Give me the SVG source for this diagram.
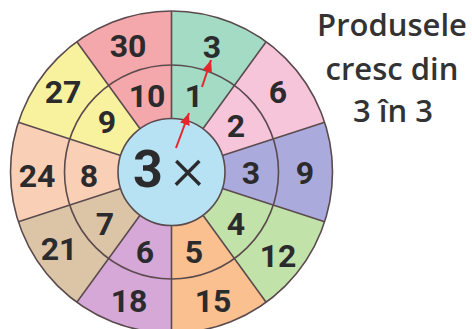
<svg xmlns="http://www.w3.org/2000/svg" width="472" height="329" viewBox="0 0 472 329">
<style>
.w{stroke:none}
.ln{fill:none;stroke:#5b4b4e;stroke-width:1.6}
.n{font-family:Roboto,"Liberation Sans",sans-serif;font-weight:700;font-size:32px;fill:#2b2b2e;text-anchor:middle}
.t{font-family:"Open Sans","Noto Sans",sans-serif;font-weight:600;font-size:31px;fill:#333;text-anchor:middle}
.ar{stroke:#e5262c;stroke-width:2;fill:none;marker-end:url(#ah)}
</style>
<defs>
<marker id="ah" markerUnits="userSpaceOnUse" markerWidth="12" markerHeight="10" refX="12" refY="5" orient="auto">
<path d="M0,0 L12,5 L0,10 z" fill="#e5262c"/>
</marker>
</defs>
<rect width="472" height="329" fill="#fff"/>
<g id="s1">
<path class="w" fill="#a3dbc4" d="M171.5,172 L171.5,11 A161,161 0 0 1 266.14,41.75 Z"/>
<text class="n" x="212" y="58">3</text><text class="n" x="194" y="107">1</text>
</g>
<g id="s2">
<path class="w" fill="#f7c5da" d="M171.5,172 L266.14,41.75 A161,161 0 0 1 324.63,122.25 Z"/>
<text class="n" x="278" y="103">6</text><text class="n" x="236" y="137">2</text>
</g>
<g id="s3">
<path class="w" fill="#abaadc" d="M171.5,172 L324.63,122.25 A161,161 0 0 1 324.63,221.75 Z"/>
<text class="n" x="305" y="184">9</text><text class="n" x="251" y="184">3</text>
</g>
<g id="s4">
<path class="w" fill="#c1e2a9" d="M171.5,172 L324.63,221.75 A161,161 0 0 1 266.14,302.25 Z"/>
<text class="n" x="278" y="267">12</text><text class="n" x="236" y="235">4</text>
</g>
<g id="s5">
<path class="w" fill="#fbc08f" d="M171.5,172 L266.14,302.25 A161,161 0 0 1 171.5,333 Z"/>
<text class="n" x="213" y="312">15</text><text class="n" x="194" y="263">5</text>
</g>
<g id="s6">
<path class="w" fill="#d5a8d8" d="M171.5,172 L171.5,333 A161,161 0 0 1 76.86,302.25 Z"/>
<text class="n" x="129" y="312">18</text><text class="n" x="145" y="263">6</text>
</g>
<g id="s7">
<path class="w" fill="#dcc5a6" d="M171.5,172 L76.86,302.25 A161,161 0 0 1 18.37,221.75 Z"/>
<text class="n" x="59" y="260">21</text><text class="n" x="105" y="235">7</text>
</g>
<g id="s8">
<path class="w" fill="#f9cfb5" d="M171.5,172 L18.37,221.75 A161,161 0 0 1 18.37,122.25 Z"/>
<text class="n" x="37" y="187">24</text><text class="n" x="89" y="187">8</text>
</g>
<g id="s9">
<path class="w" fill="#f8f29e" d="M171.5,172 L18.37,122.25 A161,161 0 0 1 76.86,41.75 Z"/>
<text class="n" x="63" y="103">27</text><text class="n" x="107" y="133">9</text>
</g>
<g id="s10">
<path class="w" fill="#f5a8ab" d="M171.5,172 L76.86,41.75 A161,161 0 0 1 171.5,11 Z"/>
<text class="n" x="128" y="57">30</text><text class="n" x="147" y="107">10</text>
</g>
<g id="rings">
<circle class="ln" cx="171.5" cy="172" r="161"/>
<circle class="ln" cx="171.5" cy="172" r="107"/>
<path class="ln" d="M171.5,118.5 L171.5,11 M202.95,128.72 L266.14,41.75 M222.38,155.47 L324.63,122.25 M222.38,188.53 L324.63,221.75 M202.95,215.28 L266.14,302.25 M171.5,225.5 L171.5,333 M140.05,215.28 L76.86,302.25 M120.62,188.53 L18.37,221.75 M120.62,155.47 L18.37,122.25 M140.05,128.72 L76.86,41.75"/>
</g>
<g id="center">
<circle cx="171.5" cy="172" r="53.5" fill="#b6e2f4" stroke="#5b4b4e" stroke-width="1.6"/>
<text x="148" y="187" font-family="Roboto,'Liberation Sans',sans-serif" fill="#2b2b2e" text-anchor="middle" font-size="52" font-weight="700">3</text>
<text x="188" y="189" font-family="Roboto,'Liberation Sans',sans-serif" fill="#2b2b2e" text-anchor="middle" font-size="62" font-weight="300">×</text>
</g>
<g id="connectors">
<line class="ar" x1="176" y1="148" x2="189" y2="113"/>
<line class="ar" x1="202" y1="87" x2="211" y2="60"/>
</g>
<g id="note">
<text class="t" x="392" y="36">Produsele</text>
<text class="t" x="392" y="80">cresc din</text>
<text class="t" x="393" y="122">3 în 3</text>
</g>
</svg>
